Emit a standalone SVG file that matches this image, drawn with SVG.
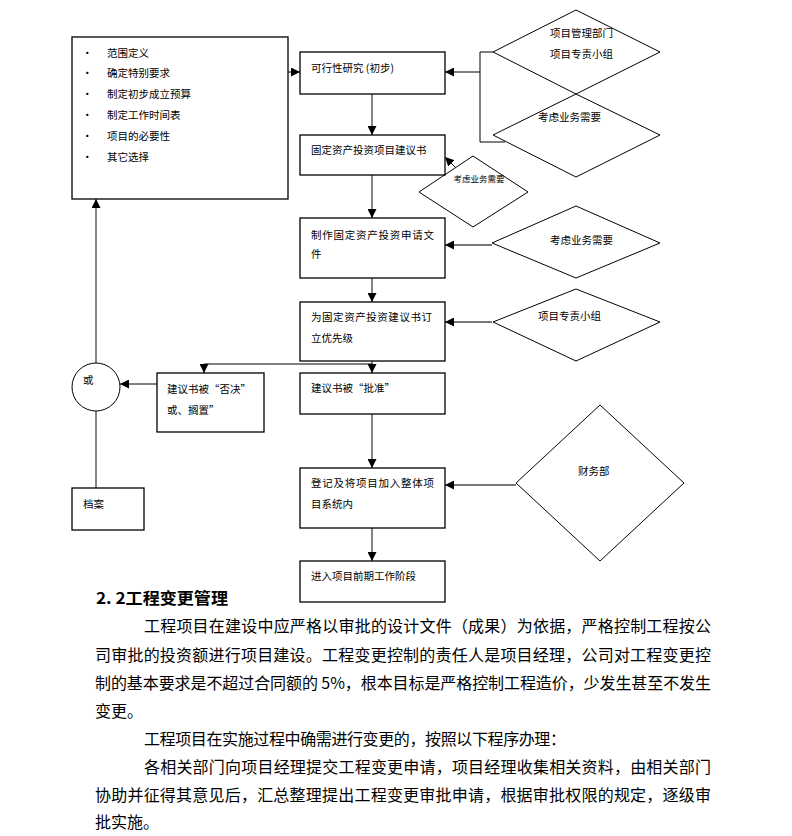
<svg xmlns="http://www.w3.org/2000/svg" width="792" height="836" viewBox="0 0 792 836">
<style>
.box{fill:#fff;stroke:#000;stroke-width:1.3}
.dia{fill:none;stroke:#000;stroke-width:1}
.t{font-family:"Noto Sans CJK SC","Liberation Sans",sans-serif;font-size:10.5px;fill:#000}
.ts{font-family:"Noto Sans CJK SC","Liberation Sans",sans-serif;font-size:8.5px;fill:#000}
.p{font-family:"Noto Sans CJK SC","Liberation Sans",sans-serif;font-size:16px;fill:#000}
.h{font-family:"Noto Sans CJK SC","Liberation Sans",sans-serif;font-size:16px;font-weight:bold;fill:#000}
.cb{fill:none;stroke:#000;stroke-width:1}
.cg{fill:none;stroke:#777;stroke-width:1.8}
</style>
<defs>
<marker id="ah" viewBox="0 0 10 10" refX="10" refY="5" markerWidth="9" markerHeight="9" markerUnits="userSpaceOnUse" orient="auto">
<path d="M0,0 L10,5 L0,10 z" fill="#000"/>
</marker>
</defs>
<rect width="792" height="836" fill="#fff"/>

<g id="connectors">
<line class="cb" x1="288" y1="72" x2="300" y2="72" marker-end="url(#ah)"/>
<polyline class="cb" points="493,52 480,52 480,142 505,142"/>
<line class="cb" x1="480" y1="72" x2="445" y2="72" marker-end="url(#ah)"/>
<line class="cg" x1="372" y1="94" x2="372" y2="135" marker-end="url(#ah)"/>
<line class="cb" x1="456" y1="168" x2="445" y2="157" marker-end="url(#ah)"/>
<line class="cg" x1="372" y1="175" x2="372" y2="218" marker-end="url(#ah)"/>
<line class="cg" x1="492" y1="245" x2="445" y2="245" marker-end="url(#ah)"/>
<line class="cg" x1="372" y1="278" x2="372" y2="302" marker-end="url(#ah)"/>
<line class="cg" x1="492" y1="322" x2="445" y2="322" marker-end="url(#ah)"/>
<line class="cg" x1="372" y1="361" x2="372" y2="373" marker-end="url(#ah)"/>
<polyline class="cb" points="372,364 204,364 204,373" marker-end="url(#ah)"/>
<line class="cb" x1="157" y1="384" x2="120" y2="384" marker-end="url(#ah)"/>
<line class="cg" x1="96" y1="363" x2="96" y2="199" marker-end="url(#ah)"/>
<line class="cg" x1="96" y1="411" x2="96" y2="488"/>
<line class="cg" x1="372" y1="414" x2="372" y2="468" marker-end="url(#ah)"/>
<line class="cg" x1="516" y1="485" x2="445" y2="485" marker-end="url(#ah)"/>
<line class="cg" x1="372" y1="528" x2="372" y2="561" marker-end="url(#ah)"/>
</g>

<g id="scope">
<rect class="box" x="72" y="37" width="216" height="162"/>
<text class="t" x="82" y="56.5">·</text><text class="t" x="107" y="56.5">范围定义</text>
<text class="t" x="82" y="77">·</text><text class="t" x="107" y="77">确定特别要求</text>
<text class="t" x="82" y="97.5">·</text><text class="t" x="107" y="97.5">制定初步成立预算</text>
<text class="t" x="82" y="119">·</text><text class="t" x="107" y="119">制定工作时间表</text>
<text class="t" x="82" y="140">·</text><text class="t" x="107" y="140">项目的必要性</text>
<text class="t" x="82" y="160.5">·</text><text class="t" x="107" y="160.5">其它选择</text>
</g>

<g id="feasibility">
<rect class="box" x="300" y="52" width="145" height="42"/>
<text class="t" x="311" y="72">可行性研究 (初步)</text>
</g>

<g id="proposal">
<rect class="box" x="300" y="135" width="145" height="40"/>
<text class="t" x="311" y="154">固定资产投资项目建议书</text>
</g>

<g id="application">
<rect class="box" x="300" y="218" width="145" height="60"/>
<text class="t" x="311" y="239" textLength="123" lengthAdjust="spacing">制作固定资产投资申请文</text>
<text class="t" x="311" y="258">件</text>
</g>

<g id="priority">
<rect class="box" x="300" y="302" width="145" height="59"/>
<text class="t" x="311" y="321" textLength="121" lengthAdjust="spacing">为固定资产投资建议书订</text>
<text class="t" x="311" y="342">立优先级</text>
</g>

<g id="approved">
<rect class="box" x="300" y="373" width="145" height="41"/>
<text class="t" x="311" y="392">建议书被“批准”</text>
</g>

<g id="rejected">
<rect class="box" x="157" y="373" width="107" height="59"/>
<text class="t" x="167" y="393">建议书被“否决”</text>
<text class="t" x="167" y="414">或、搁置”</text>
</g>

<g id="or">
<circle cx="96" cy="387" r="24" fill="#fff" stroke="#000" stroke-width="1"/>
<text class="t" x="83" y="384">或</text>
</g>

<g id="archive">
<rect class="box" x="72" y="488" width="72" height="42"/>
<text class="t" x="83" y="508">档案</text>
</g>

<g id="register">
<rect class="box" x="300" y="468" width="145" height="60"/>
<text class="t" x="311" y="487" textLength="123" lengthAdjust="spacing">登记及将项目加入整体项</text>
<text class="t" x="311" y="508">目系统内</text>
</g>

<g id="prephase">
<rect class="box" x="300" y="561" width="145" height="41"/>
<text class="t" x="311" y="580">进入项目前期工作阶段</text>
</g>

<g id="dept">
<polygon class="dia" points="576,10 660,52 576,94 493,52"/>
<text class="t" x="550" y="37">项目管理部门</text>
<text class="t" x="550" y="58">项目专责小组</text>
</g>

<g id="need1">
<polygon class="dia" points="576,94 660,135 576,177 493,135"/>
<text class="t" x="538" y="121">考虑业务需要</text>
</g>

<g id="need2">
<polygon class="dia" points="473,156 528,192 473,227 419,192"/>
<text class="ts" x="479" y="182" text-anchor="middle">考虑业务需要</text>
</g>

<g id="need3">
<polygon class="dia" points="576,206 660,243 576,278 492,243"/>
<text class="t" x="550" y="244">考虑业务需要</text>
</g>

<g id="team">
<polygon class="dia" points="576,289 660,322 576,361 493,322"/>
<text class="t" x="538" y="320">项目专责小组</text>
</g>

<g id="finance">
<polygon class="dia" points="600,405 684,483 600,561 516,483"/>
<text class="t" x="578" y="475">财务部</text>
</g>

<g id="body">
<text class="h" x="96" y="604" textLength="132" lengthAdjust="spacingAndGlyphs">2. 2工程变更管理</text>
<text class="p" x="144" y="632" textLength="567" lengthAdjust="spacing">工程项目在建设中应严格以审批的设计文件（成果）为依据，严格控制工程按公</text>
<text class="p" x="95" y="661" textLength="616" lengthAdjust="spacing">司审批的投资额进行项目建设。工程变更控制的责任人是项目经理，公司对工程变更控</text>
<text class="p" x="95" y="689" textLength="616" lengthAdjust="spacing">制的基本要求是不超过合同额的 5%，根本目标是严格控制工程造价，少发生甚至不发生</text>
<text class="p" x="95" y="717">变更。</text>
<text class="p" x="144" y="745" textLength="422" lengthAdjust="spacing">工程项目在实施过程中确需进行变更的，按照以下程序办理：</text>
<text class="p" x="144" y="773" textLength="567" lengthAdjust="spacing">各相关部门向项目经理提交工程变更申请，项目经理收集相关资料，由相关部门</text>
<text class="p" x="95" y="801" textLength="616" lengthAdjust="spacing">协助并征得其意见后，汇总整理提出工程变更审批申请，根据审批权限的规定，逐级审</text>
<text class="p" x="95" y="828">批实施。</text>
</g>
</svg>
